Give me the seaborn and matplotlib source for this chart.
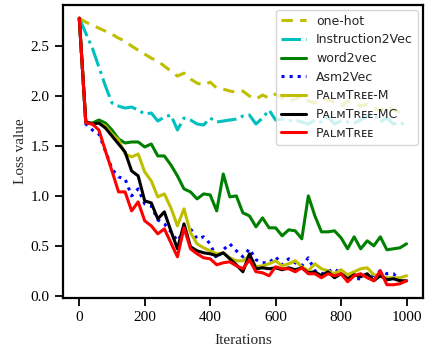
import numpy as np
import pandas as pd
import matplotlib
matplotlib.use("Agg")
import matplotlib.pyplot as plt
import seaborn as sns

iterations = list(range(0, 1001, 20))

one_hot = [2.78, 2.74, 2.71, 2.68, 2.65, 2.62, 2.58, 2.55, 2.50, 2.46,
           2.42, 2.38, 2.35, 2.30, 2.25, 2.20, 2.23, 2.17, 2.13, 2.11,
           2.14, 2.08, 2.07, 2.05, 2.04, 2.05, 2.00, 1.97, 2.01, 1.98,
           2.02, 1.98, 1.95, 1.97, 2.00, 1.95, 1.93, 1.97, 1.96, 1.94,
           1.90, 1.95, 1.93, 1.90, 1.92, 1.88, 1.85, 1.90, 1.86, 1.84, 1.83]

instruction2vec = [2.78, 2.63, 2.48, 2.29, 2.10, 1.93, 1.90, 1.88, 1.89, 1.86,
                   1.82, 1.83, 1.75, 1.79, 1.81, 1.66, 1.78, 1.76, 1.72, 1.71,
                   1.78, 1.74, 1.75, 1.76, 1.77, 1.80, 1.81, 1.72, 1.78, 1.86,
                   1.76, 1.77, 1.75, 1.76, 1.74, 1.72, 1.76, 1.74, 1.79, 1.72,
                   1.75, 1.74, 1.73, 1.76, 1.80, 1.82, 1.74, 1.78, 1.72, 1.74, 1.70]

word2vec = [2.78, 1.74, 1.73, 1.76, 1.73, 1.66, 1.57, 1.53, 1.54, 1.54,
            1.49, 1.52, 1.40, 1.40, 1.31, 1.20, 1.07, 1.04, 0.97, 1.02,
            1.01, 0.85, 1.22, 0.99, 1.00, 0.83, 0.80, 0.69, 0.78, 0.68,
            0.68, 0.60, 0.66, 0.65, 0.57, 1.00, 0.80, 0.64, 0.64, 0.65,
            0.58, 0.47, 0.59, 0.47, 0.55, 0.50, 0.59, 0.46, 0.47, 0.48, 0.52]

asm2vec = [2.78, 1.72, 1.66, 1.62, 1.45, 1.27, 1.19, 1.17, 1.00, 1.07,
           0.92, 0.90, 0.76, 0.72, 0.64, 0.55, 0.65, 0.67, 0.57, 0.59,
           0.52, 0.37, 0.46, 0.52, 0.45, 0.39, 0.47, 0.36, 0.33, 0.33,
           0.39, 0.31, 0.37, 0.33, 0.30, 0.38, 0.25, 0.22, 0.24, 0.27,
           0.22, 0.17, 0.17, 0.17, 0.22, 0.20, 0.25, 0.22, 0.22, 0.15, 0.14]

palmtree_m = [2.78, 1.74, 1.72, 1.73, 1.70, 1.62, 1.56, 1.42, 1.39, 1.42,
              1.24, 1.15, 0.99, 1.02, 0.88, 0.70, 0.87, 0.63, 0.52, 0.48,
              0.45, 0.42, 0.43, 0.38, 0.35, 0.35, 0.40, 0.29, 0.30, 0.32,
              0.35, 0.30, 0.32, 0.35, 0.29, 0.25, 0.32, 0.27, 0.25, 0.22,
              0.26, 0.21, 0.24, 0.27, 0.28, 0.21, 0.20, 0.18, 0.18, 0.18, 0.20]

palmtree_mc = [2.78, 1.74, 1.72, 1.73, 1.68, 1.60, 1.52, 1.44, 1.25, 1.20,
               0.95, 0.93, 0.77, 0.84, 0.65, 0.47, 0.72, 0.49, 0.45, 0.43,
               0.42, 0.40, 0.43, 0.37, 0.31, 0.24, 0.42, 0.27, 0.28, 0.27,
               0.28, 0.26, 0.28, 0.26, 0.28, 0.23, 0.24, 0.20, 0.24, 0.18,
               0.22, 0.17, 0.21, 0.19, 0.22, 0.15, 0.20, 0.16, 0.17, 0.15, 0.15]

palmtree = [2.78, 1.73, 1.72, 1.66, 1.45, 1.25, 1.04, 1.04, 0.85, 0.94,
            0.75, 0.70, 0.62, 0.67, 0.53, 0.39, 0.68, 0.47, 0.42, 0.38,
            0.37, 0.31, 0.33, 0.34, 0.30, 0.27, 0.36, 0.24, 0.23, 0.20,
            0.29, 0.27, 0.27, 0.24, 0.28, 0.22, 0.22, 0.18, 0.22, 0.20,
            0.22, 0.14, 0.20, 0.22, 0.18, 0.15, 0.25, 0.11, 0.11, 0.12, 0.15]

labels = ["one-hot", "Instruction2Vec", "word2vec", "Asm2Vec",
          "PᴀʟᴍTʀᴇᴇ-M", "PᴀʟᴍTʀᴇᴇ-MC", "PᴀʟᴍTʀᴇᴇ"]
series = [one_hot, instruction2vec, word2vec, asm2vec,
          palmtree_m, palmtree_mc, palmtree]
colors = ["y", "c", "g", "b", "y", "k", "r"]
styles = [(0, (3.7, 2.4)), "-.", "-", ":", "-", "-", "-"]

sns.set_style("ticks")
plt.rcParams["font.family"] = ["Liberation Serif", "DejaVu Serif"]
plt.rcParams["font.size"] = 11

fig = plt.figure(figsize=(4.25, 3.47), dpi=100)
ax = fig.add_axes([0.148, 0.141, 0.847, 0.845])

for name, vals, col, ls in zip(labels, series, colors, styles):
    df = pd.DataFrame({"Iterations": iterations, "Loss value": vals})
    sns.lineplot(data=df, x="Iterations", y="Loss value", ax=ax,
                 color=col, linestyle=ls, linewidth=2.2, label=name)

ax.set_xticks([0, 200, 400, 600, 800, 1000])
ax.set_yticks([0.0, 0.5, 1.0, 1.5, 2.0, 2.5])
ax.set_xlabel("Iterations", fontsize=11, labelpad=7)
ax.set_ylabel("Loss value", fontsize=11, labelpad=3)
ax.tick_params(axis="both", direction="out", length=6, width=1.3,
               labelsize=11, color="black", labelcolor="black")
for sp in ax.spines.values():
    sp.set_visible(True)
    sp.set_linewidth(1.6)
    sp.set_color("black")

leg = ax.legend(loc="upper right", prop={"family": "DejaVu Sans", "size": 9},
                framealpha=0.8, borderaxespad=0.4, handlelength=2.0,
                labelspacing=0.45)
leg.get_frame().set_edgecolor("#cccccc")

fig.savefig("out.png", dpi=100)
